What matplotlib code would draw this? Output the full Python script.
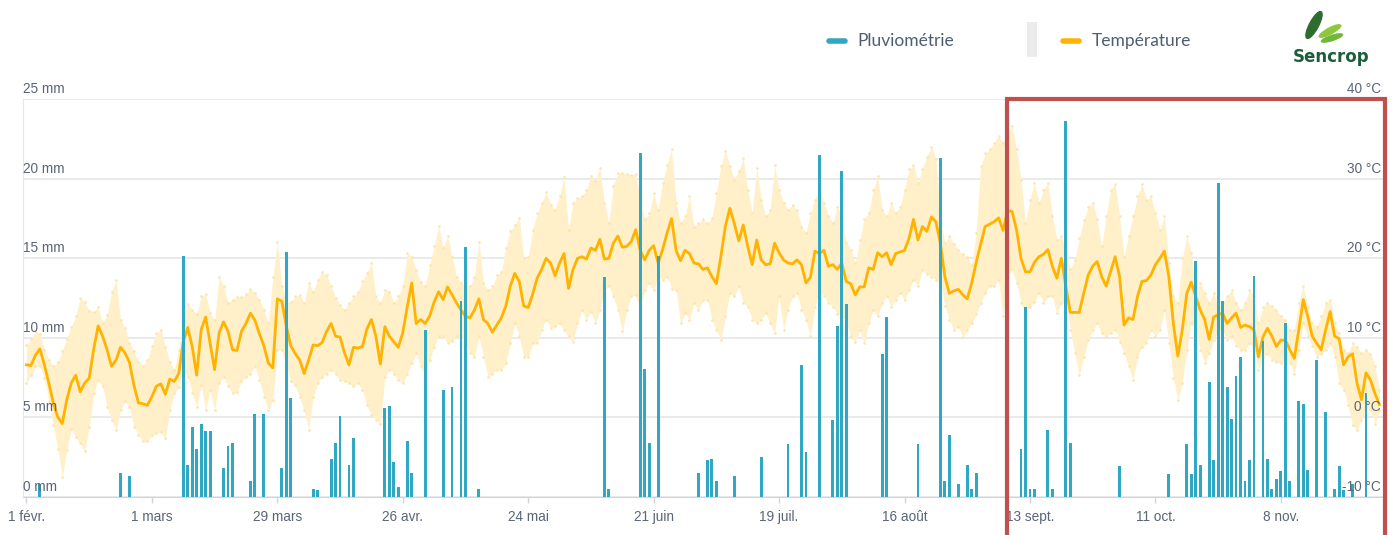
import numpy as np
import matplotlib
matplotlib.use("Agg")
import matplotlib.pyplot as plt
from matplotlib.patches import Rectangle, Ellipse
from matplotlib.lines import Line2D
from matplotlib.transforms import IdentityTransform

plt.rcParams['font.family'] = ['Liberation Sans', 'DejaVu Sans']

W, H = 1394, 535

# axe des x : un point par jour, du 1 févr. au 30 nov.
tick_days = [0, 28, 56, 84, 112, 140, 168, 196, 224, 252, 280]
tick_labels = ["1 févr.", "1 mars", "29 mars", "26 avr.", "24 mai", "21 juin",
               "19 juil.", "16 août", "13 sept.", "11 oct.", "8 nov."]

# température moyenne journalière (°C)
t_mean = [6.6, 6.5, 7.8, 8.6, 6.6, 4.3, 1.8, 0.0, -0.8, 2.2,
          4.3, 5.3, 3.2, 4.3, 4.9, 8.5, 11.5, 10.2, 8.5, 6.4,
          7.2, 8.8, 8.1, 6.9, 4.0, 1.8, 1.7, 1.5, 2.6, 3.9,
          4.2, 2.9, 4.8, 4.5, 5.5, 9.5, 11.3, 8.9, 5.3, 11.0,
          12.6, 9.3, 6.0, 10.6, 12.0, 10.8, 8.5, 8.4, 10.8, 11.8,
          13.1, 12.2, 10.5, 9.0, 6.8, 6.2, 14.9, 14.6, 11.5, 9.0,
          8.0, 7.2, 5.5, 7.2, 9.1, 9.0, 9.4, 10.8, 11.8, 10.2,
          10.1, 8.1, 6.6, 8.8, 8.7, 8.9, 11.1, 12.3, 10.2, 6.7,
          11.4, 10.2, 9.5, 8.8, 10.6, 13.9, 16.9, 11.8, 12.3, 11.8,
          12.7, 14.5, 15.8, 14.8, 16.4, 15.4, 14.4, 13.5, 12.7, 12.5,
          13.5, 14.9, 12.3, 11.8, 10.7, 11.6, 12.5, 14.0, 16.5, 18.1,
          17.1, 14.0, 13.8, 15.5, 17.5, 18.6, 20.0, 19.4, 17.8, 19.4,
          20.6, 16.2, 18.6, 20.0, 20.2, 19.9, 21.3, 21.0, 22.4, 19.9,
          20.0, 21.9, 22.8, 21.4, 21.5, 22.1, 23.6, 21.0, 19.8, 21.0,
          21.6, 19.4, 21.1, 23.2, 25.0, 21.0, 19.7, 21.0, 20.6, 19.4,
          19.3, 18.6, 18.8, 17.7, 16.8, 20.2, 24.0, 26.3, 24.4, 22.2,
          24.2, 21.5, 19.2, 22.3, 19.8, 19.2, 19.3, 21.9, 20.7, 19.8,
          19.4, 19.3, 19.8, 19.2, 16.9, 17.6, 20.9, 20.6, 21.0, 19.0,
          19.2, 18.6, 19.4, 17.1, 16.8, 15.4, 16.4, 16.4, 18.8, 18.6,
          20.7, 20.2, 20.7, 19.2, 20.6, 20.8, 21.0, 22.5, 24.9, 22.3,
          24.0, 23.4, 25.2, 24.6, 21.9, 17.7, 15.6, 15.9, 16.1, 15.4,
          14.9, 16.9, 19.5, 21.8, 24.0, 24.3, 24.6, 25.1, 23.5, 26.0,
          25.9, 23.6, 20.0, 18.3, 18.3, 19.5, 20.2, 20.5, 21.1, 19.0,
          17.5, 20.0, 16.5, 13.2, 13.2, 13.2, 15.6, 17.9, 19.0, 19.6,
          17.7, 16.5, 18.3, 20.2, 17.7, 11.6, 12.5, 12.3, 15.2, 17.1,
          17.2, 17.9, 19.2, 20.0, 20.9, 17.7, 11.8, 7.7, 11.0, 15.6,
          17.0, 15.2, 13.5, 12.3, 9.8, 12.6, 12.9, 13.1, 11.8, 12.5,
          13.1, 11.3, 11.6, 11.4, 11.0, 7.6, 10.1, 11.2, 10.2, 8.9,
          9.7, 9.7, 8.5, 7.4, 11.0, 14.8, 12.7, 10.2, 9.3, 8.5,
          11.0, 13.3, 10.2, 9.9, 6.6, 7.6, 8.0, 4.3, 2.2, 5.6,
          4.7, 3.0, 1.6]

# température max journalière (°C)
t_max = [9.1, 9.8, 10.8, 10.5, 8.5, 7.2, 6.4, 7.0, 8.3, 9.9,
         11.4, 12.7, 15.0, 14.5, 13.4, 13.3, 13.9, 11.8, 12.9, 15.8,
         17.3, 12.3, 11.2, 9.3, 8.3, 7.0, 6.5, 7.2, 9.0, 10.6,
         11.0, 8.9, 7.0, 6.0, 8.5, 12.5, 14.3, 13.5, 13.0, 15.2,
         15.5, 13.1, 12.3, 17.7, 16.5, 14.4, 14.8, 15.1, 15.1, 15.5,
         16.2, 15.6, 14.8, 13.5, 11.8, 17.7, 22.1, 16.5, 14.5, 14.5,
         15.2, 15.4, 14.4, 16.9, 15.8, 17.3, 18.3, 17.9, 16.5, 15.0,
         14.1, 13.5, 14.4, 15.2, 15.8, 17.1, 18.2, 19.4, 15.2, 14.4,
         16.0, 15.8, 14.4, 15.2, 16.5, 20.7, 20.2, 18.5, 17.0, 16.5,
         19.2, 21.5, 24.1, 21.3, 22.8, 20.2, 17.7, 16.9, 16.7, 16.5,
         17.7, 22.1, 16.9, 16.0, 16.5, 17.9, 18.3, 21.3, 23.4, 24.2,
         25.1, 20.0, 20.2, 23.6, 25.7, 27.0, 28.3, 26.7, 26.1, 27.8,
         30.2, 23.6, 27.0, 27.6, 27.8, 28.6, 30.3, 29.7, 31.4, 27.0,
         24.4, 29.1, 30.7, 30.7, 30.6, 30.5, 30.6, 27.4, 24.9, 25.7,
         28.2, 26.1, 29.5, 31.8, 33.7, 27.0, 24.4, 25.3, 27.8, 24.0,
         24.4, 24.9, 24.4, 25.1, 28.2, 31.6, 33.5, 31.6, 29.9, 31.0,
         32.6, 28.6, 25.7, 31.4, 27.4, 25.3, 26.1, 31.7, 28.6, 27.0,
         26.1, 26.7, 26.1, 24.0, 23.2, 25.7, 27.4, 28.6, 27.0, 25.3,
         24.4, 26.5, 25.3, 21.9, 21.1, 19.4, 22.3, 24.9, 25.7, 28.6,
         30.3, 26.1, 25.3, 27.0, 25.7, 26.5, 28.6, 31.2, 31.8, 29.5,
         31.3, 32.8, 34.0, 32.5, 25.0, 21.9, 22.8, 21.8, 21.0, 20.5,
         20.2, 19.2, 23.2, 31.6, 33.2, 33.7, 34.5, 35.4, 34.5, 35.8,
         36.6, 33.7, 29.9, 24.4, 27.4, 29.5, 27.0, 28.6, 29.5, 25.3,
         22.3, 22.8, 20.7, 18.6, 19.8, 22.5, 24.8, 26.5, 27.0, 24.9,
         21.5, 25.3, 28.6, 29.3, 25.3, 20.2, 22.8, 25.3, 27.8, 29.3,
         27.4, 27.8, 25.7, 23.6, 25.3, 19.4, 15.2, 14.4, 20.0, 22.8,
         20.7, 15.6, 16.9, 15.6, 14.4, 15.6, 13.9, 14.4, 15.2, 16.0,
         14.4, 13.5, 14.4, 16.0, 15.2, 11.8, 13.9, 14.4, 14.0, 13.5,
         12.7, 12.3, 11.0, 11.0, 14.4, 16.5, 13.9, 11.8, 11.4, 12.7,
         14.4, 14.8, 11.8, 10.6, 8.5, 8.1, 9.3, 8.9, 8.1, 8.5,
         8.0, 6.5, 3.4]

# température min journalière (°C)
t_min = [4.3, 5.3, 6.4, 6.4, 5.0, 2.0, -1.0, -4.0, -7.5, -4.1,
         -1.5, -2.5, -3.3, -4.3, -1.2, 3.0, 4.7, 3.9, 1.3, -0.3,
         -1.6, 0.9, 2.0, 1.3, -1.2, -2.2, -3.0, -3.0, -2.2, -2.0,
         -1.8, -2.6, 0.9, 3.0, 3.8, 6.0, 5.1, 3.0, 1.3, 4.0,
         0.9, 3.4, 0.9, 4.3, 5.1, 3.9, 3.0, 3.2, 4.5, 5.1,
         5.5, 6.4, 4.7, 2.6, 0.9, 2.2, 8.5, 8.5, 6.5, 4.5,
         4.0, 2.5, 0.9, -1.6, 2.6, 4.3, 5.1, 5.5, 6.0, 5.5,
         4.7, 4.5, 4.3, 3.9, 4.3, 3.4, 1.5, 0.3, -0.3, -0.8,
         5.1, 6.0, 5.5, 4.7, 4.3, 5.5, 6.8, 8.1, 6.4, 5.1,
         7.2, 8.9, 10.2, 10.2, 9.3, 9.6, 10.2, 10.2, 9.3, 8.1,
         7.6, 10.2, 7.6, 5.1, 5.5, 6.0, 6.0, 6.8, 9.3, 11.8,
         10.2, 7.6, 7.6, 9.3, 9.3, 11.0, 12.3, 11.2, 11.5, 11.8,
         11.0, 10.2, 9.5, 11.8, 13.5, 12.3, 13.3, 11.8, 13.5, 16.0,
         16.5, 15.2, 13.5, 10.8, 13.5, 15.2, 15.4, 13.5, 16.0, 16.9,
         16.0, 17.7, 17.3, 17.7, 16.2, 16.0, 11.8, 13.1, 12.3, 14.4,
         13.5, 14.8, 14.8, 12.3, 11.0, 9.7, 12.7, 15.6, 15.2, 16.5,
         14.4, 13.9, 12.3, 11.8, 12.3, 13.1, 11.8, 10.6, 15.2, 11.0,
         13.5, 15.2, 15.6, 13.5, 12.3, 10.2, 13.9, 16.0, 15.2, 14.4,
         13.9, 13.0, 12.7, 11.8, 10.2, 9.5, 11.0, 9.3, 11.8, 13.5,
         12.7, 14.4, 15.2, 13.9, 14.8, 15.6, 14.8, 16.0, 17.3, 16.5,
         18.5, 18.0, 17.7, 17.3, 17.0, 14.0, 12.3, 11.0, 11.4, 10.1,
         11.0, 11.8, 13.0, 14.4, 15.6, 16.5, 16.5, 17.3, 12.7, 17.7,
         18.6, 16.9, 14.4, 13.1, 13.9, 14.5, 15.6, 14.4, 15.2, 15.2,
         13.1, 14.4, 14.4, 11.0, 8.1, 5.3, 7.6, 9.7, 11.0, 11.8,
         10.6, 10.1, 10.6, 11.0, 9.5, 8.1, 6.4, 4.7, 7.6, 8.9,
         9.3, 11.0, 10.2, 11.0, 13.5, 9.3, 5.0, 2.2, 4.3, 8.5,
         11.8, 11.0, 8.5, 6.8, 8.1, 9.7, 11.0, 11.0, 9.7, 10.2,
         9.0, 8.5, 8.5, 9.3, 8.5, 6.0, 7.6, 8.0, 7.2, 7.0,
         6.8, 7.2, 6.8, 5.5, 8.5, 11.8, 10.2, 9.0, 7.6, 8.0,
         8.5, 9.3, 7.6, 4.3, 3.4, 1.5, -1.0, -1.6, -0.3, 1.3,
         0.9, -0.8, 0.9]

# pluviométrie : jours de pluie (n° du jour depuis le 1 févr.) et cumul en mm
rain_day = [3, 21, 23, 35, 36, 37, 38, 39, 40, 41, 44, 45, 46, 50, 51, 53, 57, 58, 59,
            64, 65, 68, 69, 70, 72, 73, 80, 81, 82, 83, 85, 86, 89, 93, 95, 97, 98, 101,
            129, 130, 137, 138, 139, 141, 150, 152, 153, 154, 158, 164, 170, 173, 174,
            177, 180, 181, 182, 183, 191, 192, 199, 204, 205, 206, 208, 210, 211, 212,
            222, 223, 224, 225, 228, 229, 232, 233, 244, 255, 259, 260, 261, 262, 264,
            265, 266, 267, 268, 269, 270, 271, 272, 273, 274, 276, 277, 278, 279, 280,
            281, 282, 284, 285, 286, 288, 290, 292, 293, 294, 296, 299]
rain_mm = [0.8, 1.5, 1.3, 15.1, 2.0, 4.4, 3.0, 4.6, 4.1, 4.1, 1.8, 3.2, 3.4, 1.0, 5.2, 5.2, 1.8, 15.4, 6.2,
           0.5, 0.4, 2.4, 3.4, 5.1, 2.0, 3.7, 5.6, 5.7, 2.2, 0.6, 3.5, 1.5, 10.5, 6.7, 6.9, 12.3, 15.7, 0.5,
           13.8, 0.5, 21.6, 8.0, 3.4, 15.1, 1.5, 2.3, 2.4, 1.0, 1.3, 2.5, 3.3, 8.3, 2.8,
           21.5, 4.8, 10.7, 20.5, 12.1, 9.0, 11.3, 3.3, 21.3, 1.0, 3.9, 0.8, 2.0, 0.5, 1.5,
           3.0, 11.9, 0.5, 0.5, 4.2, 0.5, 23.6, 3.4, 1.9, 1.4, 3.3, 1.4, 14.8, 2.0, 7.2,
           2.3, 19.7, 12.3, 6.9, 4.9, 7.6, 8.8, 1.0, 2.3, 13.9, 9.8, 2.4, 0.5, 1.1, 1.6,
           10.9, 1.0, 6.0, 5.8, 1.7, 8.6, 5.3, 0.5, 1.9, 0.4, 0.8, 6.5]

days = np.arange(len(t_mean))
grey_txt = '#5a6577'

fig = plt.figure(figsize=(W / 100, H / 100), dpi=100)
ax = fig.add_axes([23.3 / W, 38.3 / H, (1383 - 23.3) / W, (496.7 - 99) / H])

# température : plage min-max + moyenne
ax.fill_between(days, t_min, t_max, color='#fff0c9', lw=0, zorder=1)
ax.plot(days, t_max, 'o', ms=0.9, color='#fce6ae', zorder=1.5)
ax.plot(days, t_min, 'o', ms=0.9, color='#fce6ae', zorder=1.5)
ax.plot(days, t_mean, color='#ffb300', lw=2.0, zorder=2, solid_joinstyle='round')
ax.set_ylim(-10, 40.05)
ax.set_xlim(-0.7, 302.8)
ax.set_yticks(range(-10, 41, 10))
ax.yaxis.grid(True, color='#e6e6e6', lw=1.2)
ax.set_axisbelow(True)
ax.tick_params(axis='y', length=0, labelleft=False)
ax.set_xticks(tick_days)
ax.set_xticklabels(tick_labels)
ax.tick_params(axis='x', length=4.5, width=1, color='#d0d5dd', labelsize=9.8,
               labelcolor=grey_txt, pad=5)
ax.spines['top'].set_visible(False)
ax.spines['right'].set_visible(False)
ax.spines['left'].set_color('#e6e6e6')
ax.spines['bottom'].set_color('#d0d5dd')

# pluie par-dessus
axr = ax.twinx()
axr.bar(rain_day, rain_mm, width=0.64, color='#31a8c3', zorder=3)
axr.set_ylim(0, 25)
axr.axis('off')

for v in range(0, 30, 5):
    axr.annotate(f'{v} mm', xy=(0, v), xycoords=axr.get_yaxis_transform(),
                 xytext=(0, 10), textcoords='offset pixels', ha='left', va='center',
                 fontsize=9.8, color=grey_txt)
for t in range(-10, 50, 10):
    axr.annotate(f'{t} °C', xy=(1, t), xycoords=ax.get_yaxis_transform(),
                 xytext=(-2, 10), textcoords='offset pixels', ha='right', va='center',
                 fontsize=9.8, color=grey_txt)

# légende en haut
def fx(px):
    return px / W

def fy(py):
    return 1 - py / H

fig.add_artist(Line2D([fx(829), fx(845)], [fy(41), fy(41)], lw=4, color='#31a8c3',
                      solid_capstyle='round'))
fig.text(fx(857), fy(41), 'Pluviométrie', fontsize=12.5, color='#4f5d73', va='center',
         family=['Lato', 'DejaVu Sans'])
fig.add_artist(Rectangle((fx(1027), fy(57)), 10 / W, 35 / H, color='#ebebeb', lw=0))
fig.add_artist(Line2D([fx(1063), fx(1079)], [fy(41), fy(41)], lw=4, color='#ffb300',
                      solid_capstyle='round'))
fig.text(fx(1092), fy(41), 'Température', fontsize=12.5, color='#4f5d73', va='center',
         family=['Lato', 'DejaVu Sans'])

# logo Sencrop
idt = IdentityTransform()
fig.add_artist(Ellipse((1314, H - 25), 9, 30, angle=-28, color='#2f6d2f', transform=idt))
fig.add_artist(Ellipse((1330, H - 31), 6, 24, angle=-62, color='#8dc63f', transform=idt))
fig.add_artist(Ellipse((1332, H - 38), 5, 22, angle=-72, color='#6fb83a', transform=idt))
fig.text(fx(1331), fy(57), 'Sencrop', ha='center', va='center', fontsize=12,
         fontweight='bold', color='#1d5e3a', family='DejaVu Sans')

# cadre rouge (zone mise en avant)
fig.add_artist(Rectangle((1006.5, -20), 378, H - 98.5 + 20, fill=False, ec='#c0504d',
                         lw=3, transform=idt, zorder=10))

fig.savefig('out.png', dpi=100)
